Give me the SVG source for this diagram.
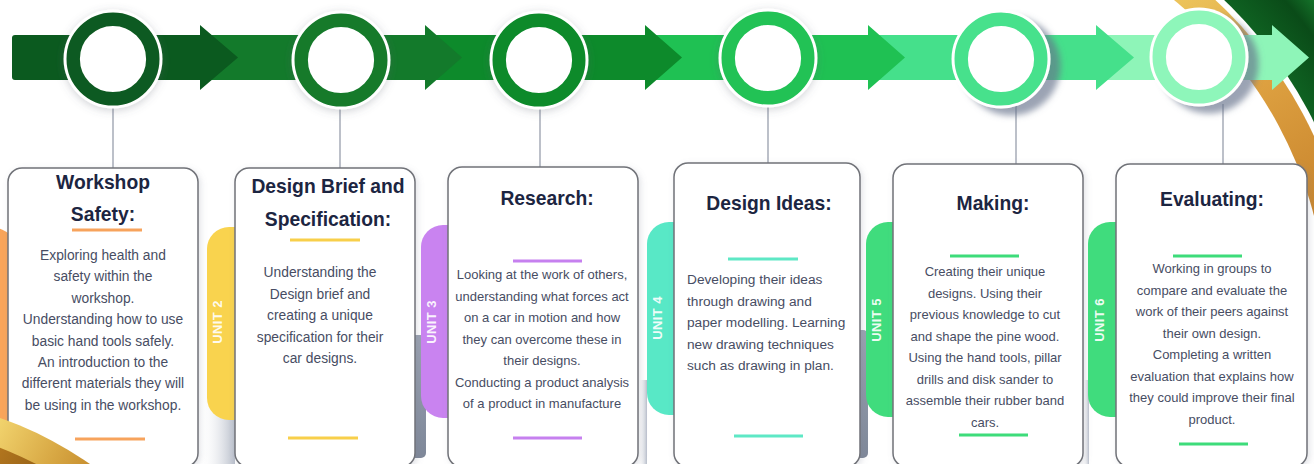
<svg xmlns="http://www.w3.org/2000/svg" width="1314" height="464" viewBox="0 0 1314 464">
  <style>
    .card{fill:#fff;stroke:#707278;stroke-width:1.5}
    .title{font-family:"Liberation Sans",Arial,sans-serif;font-weight:700;font-size:19.3px;fill:#1c2541;text-anchor:middle}
    .body{font-family:"Liberation Sans",Arial,sans-serif;font-size:13px;fill:#474d63;text-anchor:middle}
    .big{font-size:13.8px}
    .left{text-anchor:start;font-size:13.7px}
    .unit{font-family:"Liberation Sans",Arial,sans-serif;font-weight:700;font-size:13px;fill:#fff;fill-opacity:0.92;text-anchor:middle;letter-spacing:0.4px}
    .link{stroke:#bcc0c9;stroke-width:2;fill:none}
    .accent{stroke-width:3;fill:none}
    .rim{fill:#fff}
    .fade{fill:url(#fade)}
    .strip{fill:url(#strip)}
  </style>
  <defs>
    <filter id="glow" x="-40%" y="-40%" width="180%" height="180%">
      <feDropShadow dx="0" dy="2" stdDeviation="4" flood-color="#5a6070" flood-opacity="0.28"/>
    </filter>
    <filter id="cast" x="-40%" y="-40%" width="190%" height="190%">
      <feDropShadow dx="10" dy="7" stdDeviation="3" flood-color="#66728b" flood-opacity="0.65"/>
    </filter>
    <filter id="lift" x="-10%" y="-10%" width="125%" height="125%">
      <feDropShadow dx="2" dy="2" stdDeviation="3" flood-color="#7a8090" flood-opacity="0.22"/>
    </filter>
    <clipPath id="cornerClip">
      <rect x="1150" y="0" width="164" height="250"/>
    </clipPath>
    <linearGradient id="fade" x1="0" y1="0" x2="1" y2="0">
      <stop offset="0" stop-color="#ffffff" stop-opacity="0"/>
      <stop offset="1" stop-color="#b8beca"/>
    </linearGradient>
    <linearGradient id="strip" x1="0" y1="0" x2="0" y2="1">
      <stop offset="0" stop-color="#9aa2b1"/>
      <stop offset="1" stop-color="#7f8899"/>
    </linearGradient>
    <linearGradient id="goldTop" gradientUnits="userSpaceOnUse" x1="1180" y1="0" x2="1314" y2="220">
      <stop offset="0" stop-color="#ecc35a"/>
      <stop offset="0.45" stop-color="#dda040"/>
      <stop offset="1" stop-color="#c7832c"/>
    </linearGradient>
    <radialGradient id="greenCorner" gradientUnits="userSpaceOnUse" cx="920" cy="318" r="520">
      <stop offset="0.84" stop-color="#0f6322"/>
      <stop offset="0.93" stop-color="#0a4b18"/>
      <stop offset="1" stop-color="#1b8a34"/>
    </radialGradient>
    <linearGradient id="goldLow" gradientUnits="userSpaceOnUse" x1="0" y1="410" x2="100" y2="464">
      <stop offset="0" stop-color="#f3d670"/>
      <stop offset="0.6" stop-color="#d8a844"/>
      <stop offset="1" stop-color="#c48a2c"/>
    </linearGradient>
    <linearGradient id="brownLow" gradientUnits="userSpaceOnUse" x1="0" y1="430" x2="60" y2="464">
      <stop offset="0" stop-color="#b7791f"/>
      <stop offset="1" stop-color="#8e5c16"/>
    </linearGradient>
  </defs>

  <rect width="1314" height="464" fill="#fff"/>

  <!-- corner swoosh, top right -->
  <g id="corner-top" clip-path="url(#cornerClip)">
    <circle cx="920" cy="318" r="520" fill="url(#greenCorner)"/>
    <circle cx="920" cy="318" r="440" fill="#fff"/>
    <circle cx="920" cy="318" r="434" fill="url(#goldTop)"/>
    <circle cx="920" cy="318" r="407" fill="#fff"/>
  </g>

  <!-- timeline band: later segments first so each arrowhead sits over the next bar -->
  <g id="band">
    <path d="M1096,35 H1272 V25 L1309,57.5 L1272,90 V80 H1096 Z" fill="#8ef5b8"/>
    <path d="M868,35 H1096 V25 L1134,57.5 L1096,90 V80 H868 Z" fill="#45e08b"/>
    <path d="M645,35 H868 V25 L905,57.5 L868,90 V80 H645 Z" fill="#1fc153"/>
    <path d="M425,35 H645 V25 L682,57.5 L645,90 V80 H425 Z" fill="#0d8a2b"/>
    <path d="M200,35 H425 V25 L462,57.5 L425,90 V80 H200 Z" fill="#137a2b"/>
    <path d="M15,35 H200 V25 L238,57.5 L200,90 V80 H15 Q12,80 12,77 V38 Q12,35 15,35 Z" fill="#0b5a1f"/>
  </g>

  <!-- connectors from markers to cards -->
  <g id="connectors">
    <line class="link" x1="113" y1="104" x2="113" y2="168"/>
    <line class="link" x1="340" y1="104" x2="340" y2="168"/>
    <line class="link" x1="540" y1="104" x2="540" y2="167"/>
    <line class="link" x1="768" y1="104" x2="768" y2="163"/>
    <line class="link" x1="1016" y1="104" x2="1016" y2="164"/>
    <line class="link" x1="1223" y1="104" x2="1223" y2="164"/>
  </g>

  <!-- markers on the band -->
  <g id="markers">
    <g id="marker-1" filter="url(#glow)">
      <circle class="rim" cx="113" cy="59" r="49.5"/>
      <circle cx="113" cy="59" r="39.8" fill="#fff" stroke="#0e5a20" stroke-width="13.4"/>
    </g>
    <g id="marker-2" filter="url(#glow)">
      <circle class="rim" cx="341" cy="60" r="49.5"/>
      <circle cx="341" cy="60" r="39.8" fill="#fff" stroke="#147a2c" stroke-width="13.4"/>
    </g>
    <g id="marker-3" filter="url(#glow)">
      <circle class="rim" cx="539" cy="60" r="49.5"/>
      <circle cx="539" cy="60" r="39.8" fill="#fff" stroke="#0b8a2a" stroke-width="13.4"/>
    </g>
    <g id="marker-4" filter="url(#glow)">
      <circle class="rim" cx="768" cy="58" r="49.5"/>
      <circle cx="768" cy="58" r="39.8" fill="#fff" stroke="#20c255" stroke-width="13.4"/>
    </g>
    <g id="marker-5" filter="url(#cast)">
      <circle class="rim" cx="1001" cy="59" r="49.5"/>
      <circle cx="1001" cy="59" r="39.8" fill="#fff" stroke="#46e18c" stroke-width="13.4"/>
    </g>
    <g id="marker-6" filter="url(#cast)">
      <circle class="rim" cx="1199" cy="57" r="49.5"/>
      <circle cx="1199" cy="57" r="39.8" fill="#fff" stroke="#8ef6ba" stroke-width="13.4"/>
    </g>
  </g>

  <!-- stage 1 -->
  <g id="stage-1">
    <rect x="-40" y="228" width="56" height="236" rx="22" fill="#f9a55a"/>
    <rect class="card" x="8" y="168" width="190" height="299" rx="14" filter="url(#lift)"/>
    <text class="title" x="103" y="189">Workshop</text>
    <text class="title" x="103" y="221">Safety:</text>
    <line class="accent" x1="72" y1="230" x2="142" y2="230" stroke="#f7a35c"/>
    <text class="body big" x="103" y="260">Exploring health and</text>
    <text class="body big" x="103" y="281.4">safety within the</text>
    <text class="body big" x="103" y="302.8">workshop.</text>
    <text class="body big" x="103" y="324.2">Understanding how to use</text>
    <text class="body big" x="103" y="345.6">basic hand tools safely.</text>
    <text class="body big" x="103" y="367">An introduction to the</text>
    <text class="body big" x="103" y="388.4">different materials they will</text>
    <text class="body big" x="103" y="409.8">be using in the workshop.</text>
    <line class="accent" x1="75" y1="439" x2="145" y2="439" stroke="#f7a35c"/>
  </g>

  <!-- stage 2 -->
  <g id="stage-2">
    <rect class="fade" x="199" y="380" width="36" height="84"/>
    <rect x="207" y="227" width="50" height="193" rx="22" fill="#f9d34e"/>
    <text class="unit" transform="translate(217,322) rotate(-90)" y="4.6">UNIT 2</text>
    <rect class="strip" x="409" y="335" width="17" height="123" rx="5"/>
    <rect class="card" x="235" y="168" width="180" height="299" rx="14" filter="url(#lift)"/>
    <text class="title" x="328" y="193">Design Brief and</text>
    <text class="title" x="328" y="226">Specification:</text>
    <line class="accent" x1="290" y1="240" x2="360" y2="240" stroke="#f8cf4a"/>
    <text class="body big" x="320" y="277">Understanding the</text>
    <text class="body big" x="320" y="298.5">Design brief and</text>
    <text class="body big" x="320" y="320">creating a unique</text>
    <text class="body big" x="320" y="341.5">specification for their</text>
    <text class="body big" x="320" y="363">car designs.</text>
    <line class="accent" x1="288" y1="438" x2="358" y2="438" stroke="#f8cf4a"/>
  </g>

  <!-- stage 3 -->
  <g id="stage-3">
    <rect x="421" y="225" width="50" height="193" rx="22" fill="#c983f0"/>
    <text class="unit" transform="translate(431,322) rotate(-90)" y="4.6">UNIT 3</text>
    <rect class="fade" x="638" y="380" width="9" height="84"/>
    <rect class="card" x="448" y="167" width="190" height="300" rx="14" filter="url(#lift)"/>
    <text class="title" x="547" y="205">Research:</text>
    <line class="accent" x1="513" y1="261" x2="582" y2="261" stroke="#c680ef"/>
    <text class="body" x="542" y="279">Looking at the work of others,</text>
    <text class="body" x="542" y="300.5">understanding what forces act</text>
    <text class="body" x="542" y="322">on a car in motion and how</text>
    <text class="body" x="542" y="343.5">they can overcome these in</text>
    <text class="body" x="542" y="365">their designs.</text>
    <text class="body" x="542" y="386.5">Conducting a product analysis</text>
    <text class="body" x="542" y="408">of a product in manufacture</text>
    <line class="accent" x1="513" y1="438" x2="582" y2="438" stroke="#c680ef"/>
  </g>

  <!-- stage 4 -->
  <g id="stage-4">
    <rect x="647" y="222" width="50" height="193" rx="22" fill="#58e8c6"/>
    <text class="unit" transform="translate(657,318) rotate(-90)" y="4.6">UNIT 4</text>
    <rect class="strip" x="854" y="330" width="14" height="128" rx="5"/>
    <rect class="card" x="674" y="163" width="186" height="304" rx="14" filter="url(#lift)"/>
    <text class="title" x="769" y="210">Design Ideas:</text>
    <line class="accent" x1="728" y1="259" x2="798" y2="259" stroke="#5ee8c5"/>
    <text class="body left" x="687" y="284">Developing their ideas</text>
    <text class="body left" x="687" y="305.5">through drawing and</text>
    <text class="body left" x="687" y="327">paper modelling. Learning</text>
    <text class="body left" x="687" y="348.5">new drawing techniques</text>
    <text class="body left" x="687" y="370">such as drawing in plan.</text>
    <line class="accent" x1="734" y1="436" x2="803" y2="436" stroke="#5ee8c5"/>
  </g>

  <!-- stage 5 -->
  <g id="stage-5">
    <rect x="866" y="222" width="50" height="195" rx="22" fill="#40dc7d"/>
    <text class="unit" transform="translate(876,320) rotate(-90)" y="4.6">UNIT 5</text>
    <rect class="fade" x="1083" y="380" width="6" height="84"/>
    <rect class="card" x="893" y="164" width="190" height="303" rx="14" filter="url(#lift)"/>
    <text class="title" x="993" y="210">Making:</text>
    <line class="accent" x1="950" y1="256" x2="1019" y2="256" stroke="#3ddc7a"/>
    <text class="body" x="985" y="276">Creating their unique</text>
    <text class="body" x="985" y="297.5">designs. Using their</text>
    <text class="body" x="985" y="319">previous knowledge to cut</text>
    <text class="body" x="985" y="340.5">and shape the pine wood.</text>
    <text class="body" x="985" y="362">Using the hand tools, pillar</text>
    <text class="body" x="985" y="383.5">drills and disk sander to</text>
    <text class="body" x="985" y="405">assemble their rubber band</text>
    <text class="body" x="985" y="426.5">cars.</text>
    <line class="accent" x1="959" y1="435" x2="1028" y2="435" stroke="#3ddc7a"/>
  </g>

  <!-- stage 6 -->
  <g id="stage-6">
    <rect x="1088" y="222" width="50" height="195" rx="22" fill="#40dc7d"/>
    <text class="unit" transform="translate(1099,320) rotate(-90)" y="4.6">UNIT 6</text>
    <rect class="card" x="1116" y="164" width="191" height="303" rx="14" filter="url(#lift)"/>
    <text class="title" x="1212" y="206">Evaluating:</text>
    <line class="accent" x1="1173" y1="256" x2="1242" y2="256" stroke="#3ddc7a"/>
    <text class="body" x="1212" y="273">Working in groups to</text>
    <text class="body" x="1212" y="294.5">compare and evaluate the</text>
    <text class="body" x="1212" y="316">work of their peers against</text>
    <text class="body" x="1212" y="337.5">their own design.</text>
    <text class="body" x="1212" y="359">Completing a written</text>
    <text class="body" x="1212" y="380.5">evaluation that explains how</text>
    <text class="body" x="1212" y="402">they could improve their final</text>
    <text class="body" x="1212" y="423.5">product.</text>
    <line class="accent" x1="1179" y1="444" x2="1248" y2="444" stroke="#3ddc7a"/>
  </g>

  <!-- corner swoosh, bottom left -->
  <g id="corner-bottom">
    <circle cx="-123" cy="769" r="372" fill="url(#goldLow)"/>
    <circle cx="-123" cy="769" r="344" fill="url(#brownLow)"/>
  </g>
</svg>
